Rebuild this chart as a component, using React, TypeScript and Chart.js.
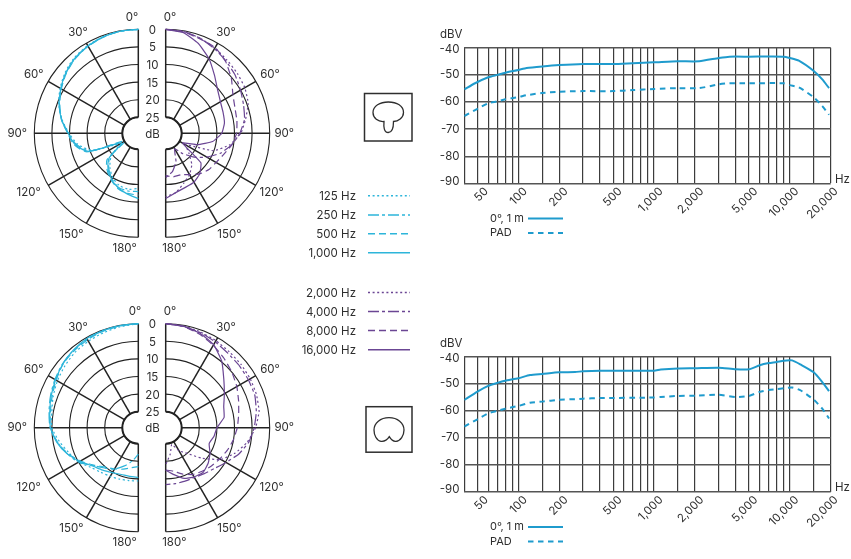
import { useEffect, useRef } from "react";
import { Chart, registerables } from "chart.js";

Chart.register(...registerables);

const INK = "#2e2e2e";
const GRID = "#222222";
const CYAN = "#2db5da";
const PURPLE = "#6b4694";
const BLUE = "#1f9bcd";
const FONT = "Inter";

// polar data: attenuation in dB, read every 10 degrees from 0 to 180
const angles = [0, 10, 20, 30, 40, 50, 60, 70, 80, 90, 100, 110, 120, 130, 140, 150, 160, 170, 180];

const superLow125 = [0, 0.1, 0.3, 0.8, 1.4, 2.5, 3.9, 5.5, 7.6, 9.9, 12, 15.5, 23, 19.5, 17, 15, 13.8, 13.4, 13.9];
const superLow250 = [0, 0.1, 0.4, 1, 1.7, 2.8, 4.2, 5.7, 7.5, 9.7, 11.6, 15, 24, 19, 16.5, 14.6, 13.2, 12.9, 13];
const superLow500 = [0, 0.1, 0.5, 1, 1.8, 2.9, 4.3, 5.8, 7.4, 9.5, 11, 14.2, 25, 18, 15.8, 14.2, 12.8, 12.2, 12];
const superLow1000 = [0, 0.1, 0.4, 0.9, 1.6, 2.7, 4.1, 5.6, 7.4, 9.6, 11.3, 14.5, 24, 18.8, 16.2, 14.4, 13, 12, 11];

const superHigh2000 = [0, 0.2, 0.8, 1.6, 2.4, 3, 3.6, 4.6, 6.5, 8.2, 11, 15, 23, 21, 18, 16, 14.5, 12.5, 11.5];
const superHigh4000 = [0, 0.2, 0.8, 1.8, 2.8, 3.8, 5, 6, 6.8, 8.5, 10.5, 13, 16, 19, 22, 24.5, 21, 18.5, 17];
const superHigh8000 = [0, 0.3, 1, 1.4, 3, 5.2, 7.5, 8.6, 9, 9.4, 10.5, 12, 13, 13.5, 14.5, 16, 17, 17, 17.5];
const superHigh16000 = [0, 0.5, 2.4, 5, 8, 10.3, 11.6, 12.2, 12.6, 13.6, 16, 20, 24, 16.5, 14.5, 13.5, 13.2, 12.5, 11];

const cardLow125 = [0, 0.4, 0.8, 1.2, 1.6, 2.3, 3, 3.8, 4.6, 5, 6.8, 8.6, 10, 12, 13, 13.6, 14, 14.3, 14.4];
const cardLow250 = [0, 0.1, 0.2, 0.5, 0.9, 1.4, 2.2, 3, 3.8, 4.5, 6.2, 8, 10, 12.8, 14.6, 16, 18, 20, 22];
const cardLow500 = [0, 0.2, 0.4, 0.7, 1.1, 1.6, 2.6, 3.5, 4.2, 4.6, 6.2, 8.2, 10.6, 13, 15, 16, 17, 18, 18.5];
const cardLow1000 = [0, 0.1, 0.2, 0.3, 0.8, 1.5, 2.4, 3.2, 4, 4.6, 6, 8, 10.4, 12.6, 13.8, 14.8, 15.4, 15.5, 15.4];

const cardHigh2000 = [0, 0.2, 0.6, 1, 1.4, 1.6, 1.8, 2.1, 2.6, 4, 6, 8.5, 11.5, 16, 20, 22, 24.5, 22, 19];
const cardHigh4000 = [0, 0.3, 0.8, 1.4, 2, 2.2, 2.4, 2.6, 3.4, 4.4, 5.6, 7.5, 9.8, 11.5, 12.5, 13.2, 13.4, 13.4, 13.4];
const cardHigh8000 = [0, 0.3, 1.3, 2.5, 3.8, 5, 6.2, 7.5, 8.5, 9.2, 10, 10.9, 11.8, 12.6, 13.4, 14.2, 15.5, 17, 17.5];
const cardHigh16000 = [0, 0.3, 1, 2.3, 4.8, 8, 10.3, 12, 12.7, 15, 15.6, 16.4, 15, 13.8, 13, 13.4, 14.2, 16, 17.5];

// frequency response
const superFreq = [40, 48, 60, 70, 80, 100, 115, 150, 200, 300, 500, 700, 1000, 1500, 2150, 3000, 3590, 5000, 9000, 10000, 11650, 15000, 17340, 19440];
const superLevel = [-55.4, -53.1, -50.9, -50, -49.2, -48.2, -47.5, -46.9, -46.4, -46, -46, -45.7, -45.4, -45, -45, -43.8, -43.3, -43.3, -43.3, -43.8, -44.8, -48.6, -51.7, -54.9];
const superPad = [-65.2, -63, -60.5, -59.8, -59, -58.2, -57.5, -56.7, -56.2, -56, -56, -55.6, -55.2, -54.9, -54.9, -53.5, -53.1, -53.1, -53.1, -53.8, -54.6, -58.3, -61.5, -64.7];

const cardFreq = [40, 50, 60, 70, 80, 100, 122, 150, 200, 262, 300, 400, 1000, 1120, 1500, 2000, 3000, 4000, 5000, 6000, 7000, 8000, 9000, 10400, 12060, 15000, 17340, 19440];
const cardLevel = [-56.1, -53, -50.9, -49.8, -49, -48.1, -46.9, -46.5, -45.9, -45.8, -45.5, -45.3, -45.3, -44.9, -44.5, -44.4, -44.2, -44.8, -44.8, -43.3, -42.5, -42.1, -41.6, -41.5, -43.1, -45.9, -49.5, -52.8];
const cardPad = [-65.9, -63.2, -61, -60.1, -59.3, -58.3, -57.1, -56.7, -56, -55.8, -55.6, -55.4, -55.2, -55, -54.6, -54.5, -54.2, -55, -54.6, -53.1, -52.4, -52.1, -51.8, -51.5, -52.6, -56, -59.3, -62.9];

const gridFreqs = [40, 50, 60, 70, 80, 90, 100, 150, 200, 300, 400, 500, 600, 700, 800, 900, 1000, 1500, 2000, 3000, 4000, 5000, 6000, 7000, 8000, 9000, 10000, 15000, 20000];
const labelFreqs = [50, 100, 200, 500, 1000, 2000, 5000, 10000, 20000];
const levelTicks = [-40, -50, -60, -70, -80, -90];

const ringLevels = [0, 5, 10, 15, 20, 25];
const spokeAngles = [30, 60, 90, 120, 150];

const legendLow = ["125 Hz", "250 Hz", "500 Hz", "1,000 Hz"];
const legendHigh = ["2,000 Hz", "4,000 Hz", "8,000 Hz", "16,000 Hz"];
const dashes = [[2, 2.6], [11, 3, 3, 3], [7, 4], []];

// 1 dB of the polar plot is 3.52 px, hub is 16 px, halves sit 13.7 px off the middle
const PX_PER_DB = 3.52;
const HUB_DB = 16 / PX_PER_DB;
const SHIFT_DB = 13.7 / PX_PER_DB;
const radiusOf = (db: number) => HUB_DB + 25 - db;

const curve = (side: number, values: number[]) =>
  values.map((db, i) => {
    const a = (angles[i] * Math.PI) / 180;
    return {
      x: side * (SHIFT_DB + radiusOf(db) * Math.sin(a)),
      y: radiusOf(db) * Math.cos(a),
    };
  });

type PolarProps = { top: number; centerY: number; low: number[][]; high: number[][]; zeroLeftX: number };

const polarLabels = (zeroLeftX: number): [string, number, number][] => [
  [`0°`, zeroLeftX, -116],
  ["30°", 78, -100.6],
  ["60°", 33.7, -58.3],
  ["90°", 17.3, 0],
  ["120°", 28.7, 59.4],
  ["150°", 71.3, 101],
  ["180°", 124.7, 115],
  ["0°", 170, -116],
  ["30°", 226, -100.6],
  ["60°", 270, -58.3],
  ["90°", 284.3, 0],
  ["120°", 271.7, 59.4],
  ["150°", 229.3, 101],
  ["180°", 174.3, 115],
];

const PolarPair = ({ top, centerY, low, high, zeroLeftX }: PolarProps) => {
  const canvasRef = useRef<HTMLCanvasElement>(null);

  useEffect(() => {
    const ctx = canvasRef.current?.getContext("2d");
    if (!ctx) return;

    const gridPlugin = {
      id: "polarGrid",
      beforeDatasetsDraw(chart: any) {
        const { x, y } = chart.scales;
        const c = chart.ctx;
        const cy = y.getPixelForValue(0);
        const unit = x.getPixelForValue(1) - x.getPixelForValue(0);
        c.save();
        c.strokeStyle = GRID;
        for (const side of [-1, 1]) {
          const cx = x.getPixelForValue(side * SHIFT_DB);
          const start = side < 0 ? Math.PI / 2 : -Math.PI / 2;
          const end = side < 0 ? (3 * Math.PI) / 2 : Math.PI / 2;
          c.lineWidth = 1.1;
          for (const db of ringLevels) {
            c.beginPath();
            c.arc(cx, cy, radiusOf(db) * unit, start, end);
            c.stroke();
          }
          c.lineWidth = 2;
          c.beginPath();
          c.arc(cx, cy, HUB_DB * unit, start, end);
          c.stroke();
          c.lineWidth = 1.5;
          for (const deg of spokeAngles) {
            const a = (deg * Math.PI) / 180;
            c.beginPath();
            c.moveTo(cx + side * Math.sin(a) * HUB_DB * unit, cy - Math.cos(a) * HUB_DB * unit);
            c.lineTo(cx + side * Math.sin(a) * radiusOf(0) * unit, cy - Math.cos(a) * radiusOf(0) * unit);
            c.stroke();
          }
          for (const dir of [-1, 1]) {
            c.beginPath();
            c.moveTo(cx, cy + dir * HUB_DB * unit);
            c.lineTo(cx, cy + dir * radiusOf(0) * unit);
            c.stroke();
          }
        }
        c.restore();
      },
      afterDraw(chart: any) {
        const { y } = chart.scales;
        const c = chart.ctx;
        const cy = y.getPixelForValue(0);
        c.save();
        c.fillStyle = INK;
        c.font = `11.5px ${FONT}`;
        c.textAlign = "center";
        c.textBaseline = "middle";
        for (const [text, px, dy] of polarLabels(zeroLeftX)) c.fillText(text, px, cy + dy);
        ringLevels.forEach((db, i) => c.fillText(String(db), 152.5, cy - 103 + i * 17.6));
        c.fillText("dB", 152.5, cy + 1);
        c.restore();
      },
    };

    const makeSet = (values: number[], i: number, side: number, color: string) => ({
      data: curve(side, values),
      showLine: true,
      borderColor: color,
      borderWidth: 1.2,
      borderDash: dashes[i],
      pointRadius: 0,
      tension: side < 0 ? 0.25 : 0.12,
    });

    const chart = new Chart(ctx, {
      type: "scatter",
      data: {
        datasets: [
          ...low.map((v, i) => makeSet(v, i, -1, CYAN)),
          ...high.map((v, i) => makeSet(v, i, 1, PURPLE)),
        ],
      },
      options: {
        animation: false,
        responsive: false,
        layout: { padding: 0 },
        plugins: { legend: { display: false }, tooltip: { enabled: false } },
        scales: {
          x: { type: "linear", display: false, min: -152 / PX_PER_DB, max: 152 / PX_PER_DB },
          y: { type: "linear", display: false, min: -(270 - centerY) / PX_PER_DB, max: centerY / PX_PER_DB },
        },
      },
      plugins: [gridPlugin],
    } as any);

    return () => chart.destroy();
  }, []);

  return (
    <canvas
      ref={canvasRef}
      width={304}
      height={270}
      style={{ position: "absolute", left: 0, top, width: 304, height: 270 }}
    />
  );
};

type FreqProps = { top: number; padTop: number; freq: number[]; level: number[]; pad: number[] };

const FreqChart = ({ top, padTop, freq, level, pad }: FreqProps) => {
  const canvasRef = useRef<HTMLCanvasElement>(null);

  useEffect(() => {
    const ctx = canvasRef.current?.getContext("2d");
    if (!ctx) return;

    const textPlugin = {
      id: "freqText",
      afterDraw(chart: any) {
        const { x, y } = chart.scales;
        const c = chart.ctx;
        const bottom = chart.chartArea.bottom;
        c.save();
        c.fillStyle = INK;
        c.font = `11.5px ${FONT}`;
        c.textBaseline = "middle";

        c.textAlign = "right";
        for (const v of levelTicks) {
          const nudge = v === -40 ? 2 : v === -90 ? -2 : 0;
          c.fillText(String(v), 39.5, y.getPixelForValue(v) + nudge);
        }
        c.textAlign = "left";
        c.fillText("dBV", 20, chart.chartArea.top - 13);
        c.fillText("Hz", 415, bottom - 4);

        c.textAlign = "right";
        for (const f of labelFreqs) {
          c.save();
          c.translate(x.getPixelForValue(f) + (f === 20000 ? 5.5 : f === 50 ? 9 : 7), bottom + 6);
          c.rotate(-Math.PI / 4);
          c.fillText(f.toLocaleString("en-US"), 0, 0);
          c.restore();
        }

        c.textAlign = "left";
        c.font = `11px ${FONT}`;
        c.fillText("0°, 1 m", 70, bottom + 35);
        c.fillText("PAD", 70, bottom + 49.5);
        c.strokeStyle = BLUE;
        c.lineWidth = 2;
        c.beginPath();
        c.moveTo(108, bottom + 35);
        c.lineTo(143, bottom + 35);
        c.stroke();
        c.setLineDash([5.5, 4.5]);
        c.beginPath();
        c.moveTo(108, bottom + 49.5);
        c.lineTo(143, bottom + 49.5);
        c.stroke();
        c.restore();
      },
    };

    const points = (values: number[]) => values.map((v, i) => ({ x: freq[i], y: v }));

    const chart = new Chart(ctx, {
      type: "scatter",
      data: {
        datasets: [
          { data: points(level), showLine: true, borderColor: BLUE, borderWidth: 2, pointRadius: 0, tension: 0.2 },
          { data: points(pad), showLine: true, borderColor: BLUE, borderWidth: 2, borderDash: [5.5, 4.5], pointRadius: 0, tension: 0.2 },
        ],
      },
      options: {
        animation: false,
        responsive: false,
        layout: { padding: { left: 44.3, right: 20.3, top: padTop, bottom: 225 - padTop - 135.7 } },
        plugins: { legend: { display: false }, tooltip: { enabled: false } },
        scales: {
          x: {
            type: "logarithmic",
            min: 40,
            max: 20000,
            afterBuildTicks: (scale: any) => {
              scale.ticks = gridFreqs.map((value) => ({ value }));
            },
            ticks: { display: false, autoSkip: false },
            grid: { color: "#3c3c3c", lineWidth: 1.2, drawTicks: false },
            border: { display: false },
          },
          y: {
            type: "linear",
            min: -90,
            max: -40,
            ticks: { display: false, stepSize: 10 },
            grid: { color: "#555555", lineWidth: 1.5, drawTicks: false },
            border: { display: false },
          },
        },
      },
      plugins: [textPlugin],
    } as any);

    return () => chart.destroy();
  }, []);

  return (
    <canvas
      ref={canvasRef}
      width={431}
      height={225}
      style={{ position: "absolute", left: 420, top, width: 431, height: 225 }}
    />
  );
};

const legendRows = (labels: string[], ys: number[], color: string) =>
  labels.map((label, i) => (
    <g key={label}>
      <text x={356} y={ys[i] + 4} textAnchor="end" fontFamily={FONT} fontSize={11.5} fill={INK}>
        {label}
      </text>
      <line x1={368} x2={410} y1={ys[i]} y2={ys[i]} stroke={color} strokeWidth={1.5} strokeDasharray={dashes[i].join(" ")} />
    </g>
  ));

const App = () => (
  <div style={{ position: "absolute", left: 0, top: 0, width: 851, height: 559, background: "#fff", overflow: "hidden" }}>
    <PolarPair top={0} centerY={133.3} low={[superLow125, superLow250, superLow500, superLow1000]} high={[superHigh2000, superHigh4000, superHigh8000, superHigh16000]} zeroLeftX={132} />
    <PolarPair top={295} centerY={132.7} low={[cardLow125, cardLow250, cardLow500, cardLow1000]} high={[cardHigh2000, cardHigh4000, cardHigh8000, cardHigh16000]} zeroLeftX={135} />
    <FreqChart top={20} padTop={27.7} freq={superFreq} level={superLevel} pad={superPad} />
    <FreqChart top={330} padTop={26.3} freq={cardFreq} level={cardLevel} pad={cardPad} />
    <svg width={851} height={559} style={{ position: "absolute", left: 0, top: 0, pointerEvents: "none" }}>
      {legendRows(legendLow, [195.7, 215, 233.7, 252.7], CYAN)}
      {legendRows(legendHigh, [292.5, 311.5, 330.5, 349.7], PURPLE)}
      <rect x={364.5} y={93.5} width={47.5} height={47.5} fill="none" stroke={INK} strokeWidth={1.5} />
      <path
        d="M384 121.5C378 122 373 118 373 112.5C373 106 380 102 388.3 102C397 102 403.5 106 403.5 112.5C403.5 118 398 121.5 393.5 121.5C393.5 127 392.5 132.5 388.3 132.5C384 132.5 383.5 127 384 121.5Z"
        fill="none"
        stroke={INK}
        strokeWidth={1.3}
      />
      <rect x={366} y={406.7} width={46} height={45.5} fill="none" stroke={INK} strokeWidth={1.5} />
      <path
        d="M389.3 436.7C387.5 439.5 384.5 441.7 381 441.3C376.5 440.5 374 435 374 430C374 423 380.5 417.7 389 417.7C397.5 417.7 404 423 404 430C404 435.5 400.5 441 396 441.3C393 441.7 391 439.5 389.3 436.7Z"
        fill="none"
        stroke={INK}
        strokeWidth={1.3}
      />
    </svg>
  </div>
);

export default App;
